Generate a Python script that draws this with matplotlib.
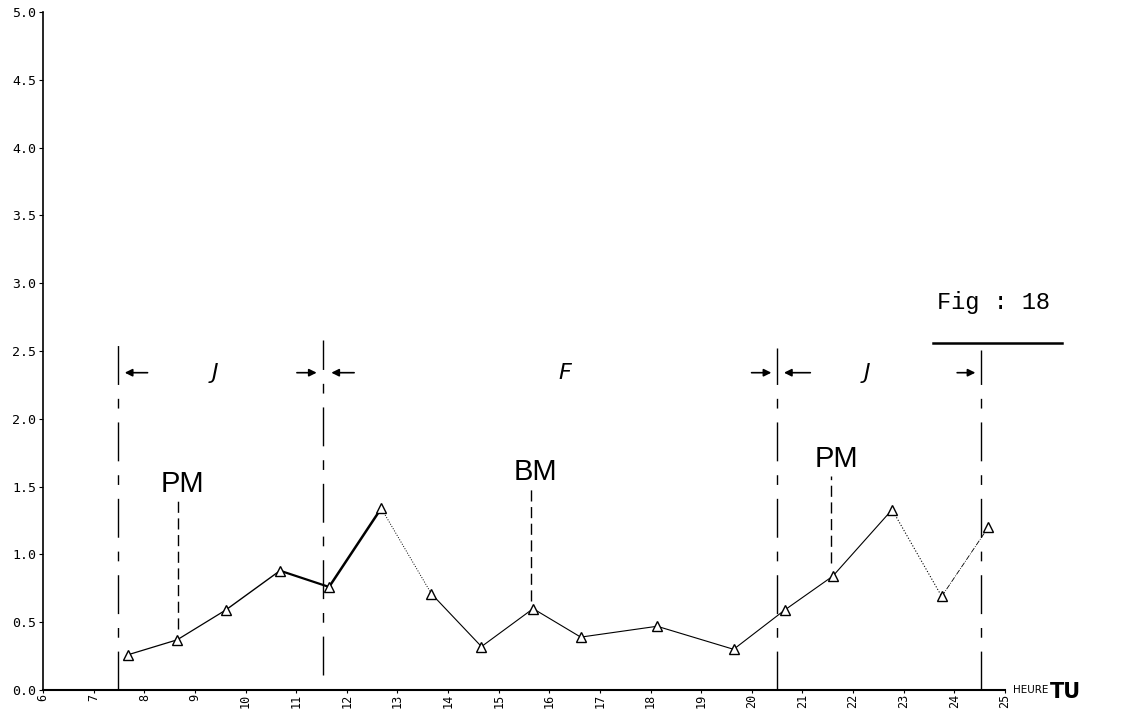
import numpy as np
import matplotlib
matplotlib.use('Agg')
import matplotlib.pyplot as plt

# Heures TU des mesures et valeurs correspondantes
heures = [7.68, 8.65, 9.61, 10.68, 11.65, 12.68, 13.67, 14.66, 15.68,
          16.62, 18.13, 19.64, 20.65, 21.60, 22.77, 23.75, 24.67]
valeurs = [0.26, 0.37, 0.59, 0.88, 0.76, 1.34, 0.71, 0.32, 0.60,
           0.39, 0.47, 0.30, 0.59, 0.84, 1.33, 0.69, 1.20]

# Limites des périodes jour / nuit
limites_x = [7.48, 11.54, 20.50, 24.53]
limites_haut = [2.62, 2.58, 2.52, 2.51]
limites_bas = [0.0, 0.11, 0.0, 0.0]

# Repères de marée (PM / BM)
marees = ['PM', 'BM', 'PM']
marees_x = [8.67, 15.64, 21.57]
marees_texte_x = [8.75, 15.72, 21.67]
marees_texte_y = [1.52, 1.61, 1.70]
marees_haut = [1.40, 1.48, 1.58]
marees_bas = [0.45, 0.66, 0.94]

# Périodes
periodes = ['J', 'F', 'J']
periodes_x = [9.40, 16.30, 22.28]

xticks = list(range(6, 26))
yticks = np.arange(0, 5.01, 0.5)

fig = plt.figure(figsize=(11.23, 7.10), dpi=100)
ax = fig.add_axes([43 / 1123, 20 / 710, 962 / 1123, 678 / 710])

# courbe, segment par segment (épaisseurs différentes sur l'original)
styles = ['-', '-', '-', '-', '-', ':', '-', '-', '-', '-', '-', '-', '-', '-', ':', '-.']
epaisseurs = [0.9, 0.9, 1.0, 1.6, 1.8, 0.7, 0.8, 0.8, 0.8, 0.8, 0.8, 0.8, 0.8, 0.8, 0.8, 0.6]
for i in range(len(heures) - 1):
    ax.plot(heures[i:i + 2], valeurs[i:i + 2], color='black',
            ls=styles[i], lw=epaisseurs[i])
ax.plot(heures, valeurs, ls='none', marker='^', ms=7.5, mfc='white',
        mec='black', mew=1.0)

# limites verticales des périodes (trait long / trait court)
for x, yh, yb in zip(limites_x, limites_haut, limites_bas):
    ax.plot([x, x], [yb, yh], color='black', lw=1.0,
            ls=(0, (28, 10, 7, 10)))

# flèches
y_fl = 2.34
fleches = [(8.12, 7.56), (10.96, 11.46), (12.20, 11.64),
           (19.94, 20.44), (21.21, 20.58), (24.0, 24.47)]
for x0, x1 in fleches:
    ax.annotate('', xy=(x1, y_fl), xytext=(x0, y_fl),
                arrowprops=dict(arrowstyle='-|>', color='black', lw=1.2,
                                mutation_scale=11))

for txt, x in zip(periodes, periodes_x):
    ax.text(x, 2.34, txt, fontsize=16, style='italic', ha='center',
            va='center', family='DejaVu Sans', fontweight='light')

# repères de marée
for txt, x, tx, ty, yh, yb in zip(marees, marees_x, marees_texte_x,
                                  marees_texte_y, marees_haut, marees_bas):
    ax.plot([x, x], [yb, yh], color='black', lw=1.0, ls=(0, (8, 4)))
    ax.text(tx, ty, txt, fontsize=21, ha='center', va='center',
            family='Liberation Sans')

# titre de la figure
fig.text(994 / 1123, 1 - 302 / 710, 'Fig : 18', fontsize=17,
         family='Liberation Mono', ha='center', va='center')
fig.add_artist(plt.Line2D([933 / 1123, 1062 / 1123],
                          [1 - 343 / 710, 1 - 343 / 710],
                          color='black', lw=1.8))

ax.set_xlim(6, 25)
ax.set_ylim(0, 5)
ax.set_xticks(xticks)
ax.set_xticklabels([str(h) for h in xticks], rotation=90,
                   family='DejaVu Sans Mono', fontsize=8.5)
ax.set_yticks(yticks)
ax.set_yticklabels([f'{v:.1f}' for v in yticks],
                   family='DejaVu Sans Mono', fontsize=9.5)
ax.tick_params(axis='y', length=3, width=0.8, pad=2)
ax.tick_params(axis='x', length=2, width=0.8, pad=1)
for s in ['top', 'right']:
    ax.spines[s].set_visible(False)
ax.spines['left'].set_linewidth(1.2)
ax.spines['bottom'].set_linewidth(1.5)

fig.text(1013 / 1123, 20 / 710, 'HEURE', fontsize=7.5,
         family='DejaVu Sans', va='center')
fig.text(1050 / 1123, 18 / 710, 'TU', fontsize=15, fontweight='bold',
         family='DejaVu Sans', va='center')

fig.savefig('out.png', dpi=100)
